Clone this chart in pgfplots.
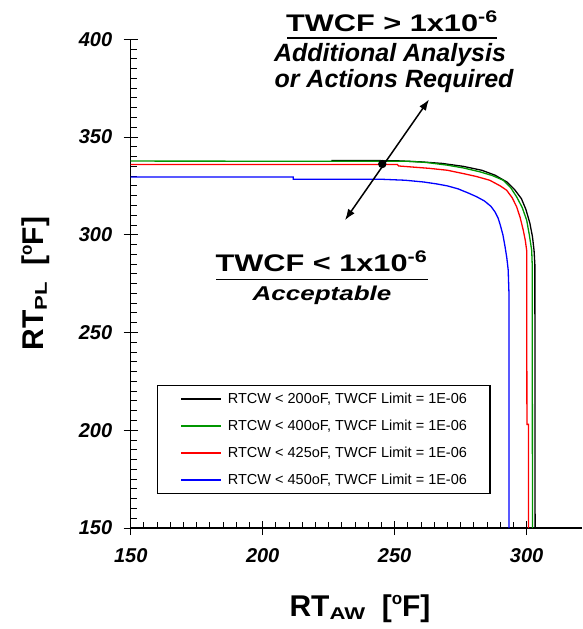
\documentclass[border=0pt]{standalone}
\usepackage{fontspec}
\setmainfont{Liberation Sans}
\usepackage{pgfplots}
\pgfplotsset{compat=1.18}
\usetikzlibrary{arrows.meta}
\definecolor{cgreen}{RGB}{0,150,0}
\newcommand{\lsub}[1]{\raisebox{-3pt}{\fontsize{17}{17}\selectfont\scalebox{1.3}[1]{#1}}}
\newcommand{\ldeg}{\raisebox{12pt}{\fontsize{17}{17}\selectfont o}}

\begin{document}
\begin{tikzpicture}[x=1pt,y=1pt]
\useasboundingbox (-130.7,-101) rectangle (452.3,528);
\begin{axis}[
  at={(0,0)}, anchor=south west,
  scale only axis, width=451.4pt, height=488.7pt,
  xmin=150, xmax=321, ymin=150, ymax=400,
  axis lines=left, axis line style={-, line width=1.2pt},
  xtick={150,200,250,300}, ytick={150,200,250,300,350,400},
  minor x tick num=9, minor y tick num=9,
  tick align=inside, major tick length=7pt, minor tick length=6pt,
  tick style={line width=1pt, black},
  extra x ticks={150,200,250,300}, extra y ticks={150,200,250,300,350,400},
  extra x tick labels={}, extra y tick labels={},
  extra tick style={tick align=outside, major tick length=7pt},
  /pgf/number format/assume math mode=true,
  tick label style={font=\fontsize{20}{24}\selectfont\bfseries\itshape},
  xticklabel style={yshift=-17pt},
  yticklabel style={xshift=-15pt},
  xlabel={RT\lsub{AW}~~[\ldeg F]},
  xlabel style={font=\fontsize{30}{36}\selectfont\bfseries, at={(axis description cs:0.508,-0.1821)}, anchor=base},
  ylabel={RT\lsub{PL}~~[\ldeg F]},
  ylabel style={font=\fontsize{30}{36}\selectfont\bfseries, at={(axis description cs:-0.2098,0.5)}, anchor=center},
  legend style={at={(axis description cs:0.0583,0.2926)}, anchor=north west, draw=black, line width=1.2pt,
    font=\fontsize{14.5}{17}\selectfont, inner xsep=23pt, inner ysep=7.5pt, row sep=15pt, column sep=6pt,
    nodes={inner sep=0pt}},
  legend cell align=left,
  legend image code/.code={\draw[#1] (0pt,0pt) -- (40pt,0pt);},
  every axis plot/.append style={line width=1.3pt, no marks},
]
\addplot[black] coordinates {
(226,338) (250,337.9) (260,337.3) (268,336.5) (276,335) (283,333) (288,330.5)
(292.5,327) (295.5,323) (298,318.5) (299.7,313) (301.2,306) (302.2,299)
(302.8,292) (303.1,285) (303.2,150)};
\addlegendentry{RTCW < 200oF, TWCF Limit = 1E-06}
\addplot[cgreen] coordinates {
(150,337.7) (255,337.6) (262,337) (270,335.6) (276,334.2) (282.3,332.2)
(287,330.3) (291.1,327.9) (294,324) (296.2,319.4) (298.3,314) (300,307.5)
(301,300) (301.9,292.1) (302.1,285) (302.2,150)};
\addlegendentry{RTCW < 400oF, TWCF Limit = 1E-06}
\addplot[red] coordinates {
(150,336) (251,336) (251.5,335.2) (263,334) (270,333) (276,331.3) (281,329.8)
(286,327.9) (290,325) (292.4,322.8) (294.5,319) (296.2,314.3) (297.5,309)
(298.7,302.4) (299.5,297) (300,292) (300.1,203) (300.7,203) (300.7,150)};
\addlegendentry{RTCW < 425oF, TWCF Limit = 1E-06}
\addplot[blue] coordinates {
(150,329.6) (211.6,329.6) (211.6,328.4) (245,328.4) (254,327.9) (261,327)
(266,326) (270,325) (274,323.5) (278,321.3) (281,319.5) (284,317.3)
(286.5,314.5) (288,311.7) (289.2,308.5) (290,305) (291,300) (291.8,294)
(292.5,288) (293.0,282) (293.3,270) (293.3,150)};
\addlegendentry{RTCW < 450oF, TWCF Limit = 1E-06}
\addplot[only marks, mark=square*, mark size=3.5pt, black, forget plot] coordinates {(245.3,336.2)};
\draw[{Latex[length=11pt,width=8pt]}-{Latex[length=11pt,width=8pt]}, line width=1.5pt]
  (axis cs:231.2,307.5) -- (axis cs:263,369.2);
\end{axis}
\node[anchor=base, font=\fontsize{24}{28}\selectfont\bfseries] at (261.3,496) {\scalebox{1.28}[1]{TWCF > 1x10\textsuperscript{-6}}};
\draw[line width=1.5pt] (156.3,490) -- (366.3,490);
\node[anchor=base, font=\fontsize{25}{30}\selectfont\bfseries\itshape] at (259.3,466) {Additional Analysis};
\node[anchor=base, font=\fontsize{25}{30}\selectfont\bfseries\itshape] at (263.3,440) {or Actions Required};
\node[anchor=base, font=\fontsize{24}{28}\selectfont\bfseries] at (190.8,256.3) {\scalebox{1.28}[1]{TWCF < 1x10\textsuperscript{-6}}};
\draw[line width=1.5pt] (85.3,248.7) -- (297.3,248.7);
\node[anchor=base, font=\fontsize{20}{24}\selectfont\bfseries\itshape] at (191.3,227) {\scalebox{1.3}[1]{Acceptable}};
\end{tikzpicture}
\end{document}
